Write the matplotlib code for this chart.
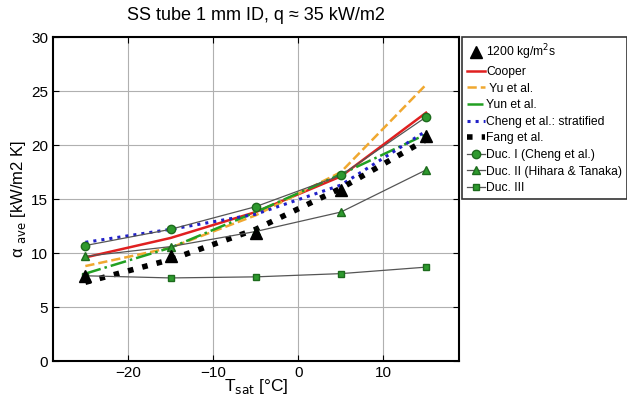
import numpy as np
import matplotlib.pyplot as plt

plt.rcParams['font.family'] = ['Liberation Sans', 'DejaVu Sans']

# saturation temperatures [C]
t_sat = np.array([-25, -15, -5, 5, 15])

# measured, 1200 kg/m2s
meas = [7.9, 9.7, 11.9, 15.8, 20.8]

# correlations
cooper = [9.6, 11.4, 13.8, 17.1, 23.0]
yu = [8.8, 10.5, 13.5, 17.5, 25.6]
yun = [8.1, 10.5, 13.8, 17.3, 21.0]
cheng = [11.0, 12.2, 13.6, 16.3, 21.3]
fang = [7.3, 9.4, 12.2, 16.0, 20.5]
duc1 = [10.7, 12.2, 14.3, 17.2, 22.6]
duc2 = [9.7, 10.6, 12.0, 13.8, 17.7]
duc3 = [7.9, 7.7, 7.8, 8.1, 8.7]

fig = plt.figure(figsize=(6.27, 3.99), dpi=100)
ax = fig.add_axes([0.0845, 0.095, 0.648, 0.812])

mgreen = '#2e9a2e'
medge = '#1d6b1d'
gline = '#555555'

ax.plot(t_sat, meas, '^', color='black', ms=9, label='1200 kg/m$^2$s', zorder=6)
ax.plot(t_sat, cooper, '-', color='#e02020', lw=1.8, label='Cooper')
ax.plot(t_sat, yu, '--', color='#f0a830', lw=1.8, label=' Yu et al.')
ax.plot(t_sat, yun, '-.', color='#22a022', lw=1.8, label='Yun et al.')
ax.plot(t_sat, cheng, ':', color='#2020c8', lw=2.2, label='Cheng et al.: stratified')
ax.plot(t_sat, fang, ':', color='black', lw=4, label='Fang et al.')
ax.plot(t_sat, duc1, '-o', color=gline, lw=0.9, ms=6, mfc=mgreen, mec=medge,
        label='Duc. I (Cheng et al.)')
ax.plot(t_sat, duc2, '-^', color=gline, lw=0.9, ms=6, mfc=mgreen, mec=medge,
        label='Duc. II (Hihara & Tanaka)')
ax.plot(t_sat, duc3, '-s', color=gline, lw=0.9, ms=5, mfc=mgreen, mec=medge,
        label='Duc. III')

ax.set_xlim(-28.8, 18.9)
ax.set_ylim(0, 30)
ax.set_xticks([-20, -10, 0, 10])
ax.set_yticks(np.arange(0, 31, 5))
ax.grid(True, color='#b0b0b0', lw=0.8)
ax.tick_params(direction='in', top=True, right=True, labelsize=11, length=4)
for s in ax.spines.values():
    s.set_linewidth(1.5)

ax.set_xlabel('T$_{\\mathrm{sat}}$ [°C]', fontsize=12.5, labelpad=-2)
ax.set_ylabel('α $_{\\mathrm{ave}}$ [kW/m2 K]', fontsize=12, labelpad=2)
ax.set_title('SS tube 1 mm ID, q ≈ 35 kW/m2', fontsize=13, pad=12)

leg = ax.legend(loc='upper left', bbox_to_anchor=(1.006, 1.0), fontsize=8.7,
                frameon=True, fancybox=False, edgecolor='black',
                handlelength=1.5, handletextpad=0.15, borderpad=0.4,
                labelspacing=0.38, borderaxespad=0)
leg.get_frame().set_linewidth(1.2)

fig.savefig('out.png', dpi=100)
